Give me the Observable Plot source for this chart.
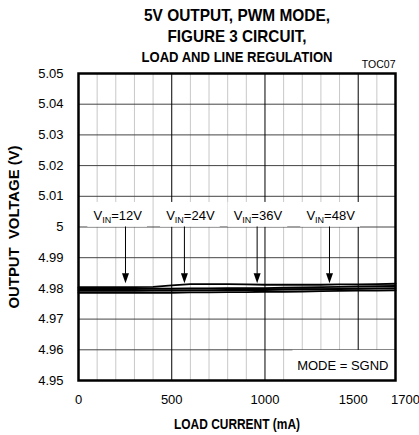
<!DOCTYPE html>
<html><head><meta charset="utf-8">
<script src="https://cdn.jsdelivr.net/npm/d3@7"></script>
<script src="https://cdn.jsdelivr.net/npm/@observablehq/plot@0.6"></script>
<style>
body{margin:0;background:#fff;}
svg text{white-space:pre}
</style></head><body>
<div id="chart"></div>
<script>
// ---- data ----
const loadCurrent = [0,100,200,300,400,500,600,700,800,900,1000,1100,1200,1300,1400,1500,1600,1700];
const vout12 = [4.9786,4.9786,4.9786,4.9786,4.9786,4.9786,4.9787,4.9787,4.9788,4.9788,4.9789,4.9789,4.9790,4.9791,4.9792,4.9793,4.9793,4.9794];
const vout24 = [4.9804,4.9804,4.9804,4.9804,4.9805,4.9810,4.9814,4.9814,4.9814,4.9813,4.9812,4.9812,4.9812,4.9812,4.9813,4.9813,4.9814,4.9815];
const vout36 = [4.9792,4.9792,4.9792,4.9792,4.9793,4.9793,4.9794,4.9794,4.9795,4.9795,4.9795,4.9796,4.9797,4.9797,4.9798,4.9799,4.9800,4.9801];
const vout48 = [4.9798,4.9798,4.9798,4.9798,4.9799,4.9799,4.9800,4.9800,4.9801,4.9801,4.9801,4.9802,4.9803,4.9804,4.9805,4.9806,4.9807,4.9808];
const vinNames = ["12V","24V","36V","48V"];
const labelLoad = [210, 600, 962, 1352];   // label centres (mA)
const arrowLoad = [252, 568, 958, 1346];   // arrow positions (mA)
const xTicks = [0, 500, 1000, 1500, 1700];
const yTicks = [4.95,4.96,4.97,4.98,4.99,5.00,5.01,5.02,5.03,5.04,5.05];
const titleLines = ["5V OUTPUT, PWM MODE,", "FIGURE 3 CIRCUIT,", "LOAD AND LINE REGULATION"];
const xTitle = "LOAD CURRENT (mA)";
const yTitle = "OUTPUT  VOLTAGE (V)";
const modeNote = "MODE = SGND";
const tocNote = "TOC07";

// ---- build ----
const seriesArr = [vout12, vout24, vout36, vout48];
const rows = [];
seriesArr.forEach((s, k) => s.forEach((v, i) => rows.push({vin: vinNames[k], load: loadCurrent[i], v})));
const labels = vinNames.map((n, i) => ({name: "VIN=" + n, x: labelLoad[i], ax: arrowLoad[i]}));
const minorX = d3.range(0, 1701, 100).filter(d => d % 500 !== 0);
const majorX = [500, 1000, 1500];
const sans = "'Liberation Sans',Arial,sans-serif";
const downHead = {draw(ctx){ ctx.moveTo(0,0); ctx.lineTo(-3.5,-10); ctx.lineTo(3.5,-10); ctx.closePath(); }};
const fmtY = d => String(+d.toFixed(2));
const fmtX = d => String(d);
const tx = {tickSize: 0, tickPadding: 14, label: null, fontSize: 13, tickFormat: fmtX};

const chart = Plot.plot({
  width: 419, height: 435,
  marginLeft: 78, marginRight: 24, marginTop: 73, marginBottom: 55,
  style: {fontFamily: sans, fontSize: "13px", background: "white", color: "black"},
  x: {domain: [0, 1700]},
  y: {domain: [4.95, 5.05]},
  marks: [
    Plot.ruleX(minorX, {stroke: "#c8c8c8", strokeWidth: 1}),
    Plot.ruleY(yTicks, {stroke: "#444", strokeWidth: 1}),
    Plot.ruleX(majorX, {stroke: "#000", strokeWidth: 1}),
    Plot.rect(labels, {x1: d => d.x - 160, x2: d => d.x + 160, y1: 4.9999, y2: 5.008, fill: "white"}),
    Plot.rect([modeNote], {x1: 1150, x2: 1700, y1: 4.95, y2: 4.9598, fill: "white"}),
    Plot.line(rows, {x: "load", y: "v", z: "vin", stroke: "black", strokeWidth: 1.9}),
    Plot.ruleX(labels, {x: "ax", y1: 5.0, y2: 4.9846, stroke: "black", strokeWidth: 1}),
    Plot.dot(labels, {x: "ax", y: 4.9817, symbol: downHead, fill: "black", stroke: "none", r: 3}),
    Plot.text(labels, {x: "x", y: 5.0037, text: "name", fontSize: 13, className: "vinlab"}),
    Plot.text([modeNote], {frameAnchor: "bottom-right", textAnchor: "end", lineAnchor: "middle", dx: -7, dy: -15, fontSize: 13}),
    Plot.frame({stroke: "black", strokeWidth: 2.5}),
    Plot.axisY(yTicks, {tickSize: 0, tickPadding: 15, tickFormat: fmtY, label: null, fontSize: 13}),
    Plot.axisX([0, 500, 1000], tx),
    Plot.axisX([1500], {...tx, dx: -5}),
    Plot.axisX([1700], {...tx, dx: 10}),
    Plot.text([titleLines[0]], {frameAnchor: "top", lineAnchor: "middle", textAnchor: "middle", dy: -58, fontSize: 17, fontWeight: "bold", className: "t1"}),
    Plot.text([titleLines[1]], {frameAnchor: "top", lineAnchor: "middle", textAnchor: "middle", dy: -37, fontSize: 17, fontWeight: "bold", className: "t2"}),
    Plot.text([titleLines[2]], {frameAnchor: "top", lineAnchor: "middle", textAnchor: "middle", dy: -16, fontSize: 15, fontWeight: "bold", className: "t3"}),
    Plot.text([tocNote], {frameAnchor: "top-right", textAnchor: "end", lineAnchor: "middle", dy: -9, fontSize: 10.5}),
    Plot.text([xTitle], {frameAnchor: "bottom", lineAnchor: "middle", textAnchor: "middle", dy: 44, fontSize: 14, fontWeight: "bold", className: "xt"}),
    Plot.text([yTitle], {frameAnchor: "left", lineAnchor: "middle", textAnchor: "middle", dx: -64, rotate: -90, fontSize: 14, fontWeight: "bold", className: "yt"})
  ]
});

// subscripts "IN" in the V_IN labels
d3.select(chart).selectAll("g.vinlab text").each(function() {
  const t = this.textContent; // "VIN=12V"
  const rest = t.slice(3);
  this.textContent = "";
  const sel = d3.select(this);
  sel.append("tspan").text("V");
  sel.append("tspan").attr("dy", 3).attr("font-size", 9).text("IN");
  sel.append("tspan").attr("dy", -3).text(rest);
});
// condensed bold type for the titles
function squeeze(cls, len) {
  d3.select(chart).selectAll("g." + cls + " text").attr("textLength", len).attr("lengthAdjust", "spacingAndGlyphs");
}
squeeze("t1", 186); squeeze("t2", 139); squeeze("t3", 191); squeeze("xt", 126); squeeze("yt", 163);

document.getElementById("chart").appendChild(chart);
</script>
</body></html>
